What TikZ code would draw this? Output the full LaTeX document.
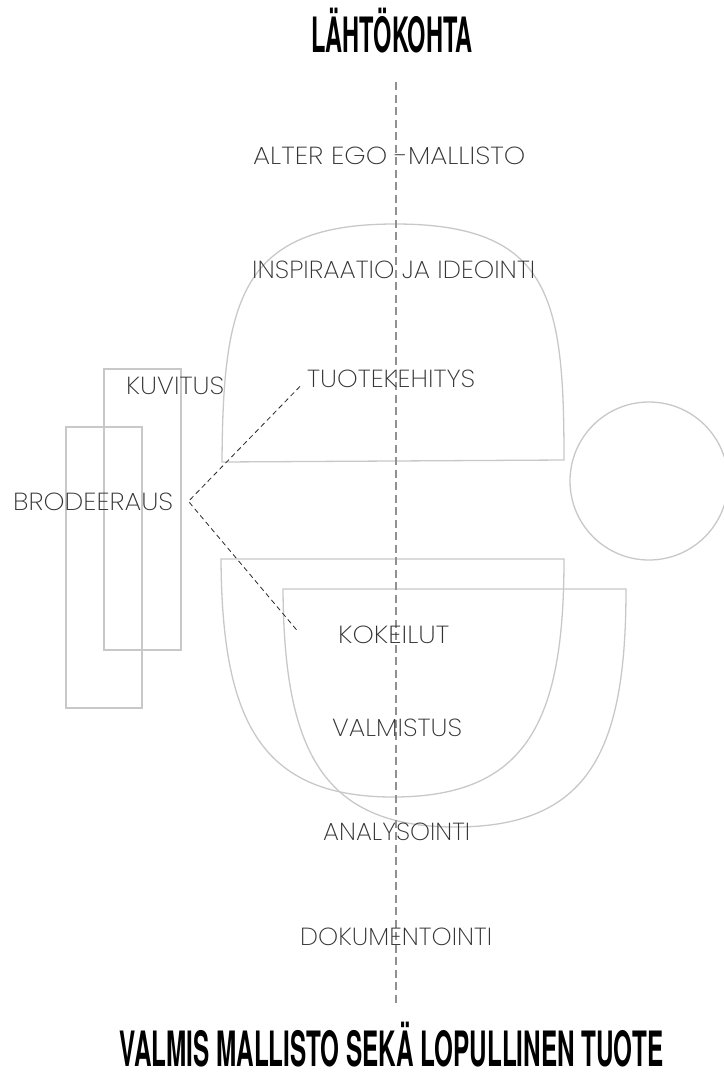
\documentclass[tikz,border=0pt]{standalone}
\usepackage{fontspec}
\usepackage{graphicx}
\IfFontExistsTF{Poppins ExtraLight}{\newfontfamily\lblfont{Poppins ExtraLight}\def\lblcol{51}}{%
  \IfFontExistsTF{Poppins Light}{\newfontfamily\lblfont{Poppins Light}\def\lblcol{51}}{%
    \newfontfamily\lblfont{Poppins}\def\lblcol{90}}}
\newfontfamily\ttlfont{TeX Gyre Heros}
\definecolor{shapegray}{RGB}{200,200,200}
\definecolor{axisgray}{RGB}{145,145,145}
\definecolor{txtgray}{RGB}{\lblcol,\lblcol,\lblcol}
\definecolor{linkgray}{RGB}{40,40,40}
\newcommand{\lbl}[2]{\resizebox{#1pt}{17.5pt}{\lblfont #2}}
\newcommand{\ttl}[2]{\scalebox{#1}[1]{\ttlfont\bfseries\fontsize{48.7}{50}\selectfont #2}}
\tikzset{
  outline/.style={draw=shapegray, line width=1.3pt},
  axisline/.style={draw=axisgray, line width=1.6pt, dash pattern=on 8pt off 4.5pt},
  connector/.style={draw=linkgray, line width=0.8pt, dash pattern=on 5pt off 3.5pt},
  labeltext/.style={anchor=base west, inner sep=0pt, text=txtgray},
  titletext/.style={anchor=base, inner sep=0pt, text=black}
}
\begin{document}
\begin{tikzpicture}[x=1pt,y=-1pt]
\useasboundingbox (0,0) rectangle (723,1076);
% top dome
\draw[outline] (222,462) .. controls (223,300) and (240,224) .. (395,224)
  .. controls (552,224) and (564,300) .. (564,460) -- cycle;
% bowls
\draw[outline] (221,559) .. controls (222,720) and (260,797) .. (393,797)
  .. controls (528,797) and (564,720) .. (564,559) -- cycle;
\begin{scope}[shift={(62,30)}]
\draw[outline] (221,559) .. controls (222,720) and (260,797) .. (393,797)
  .. controls (528,797) and (564,720) .. (564,559) -- cycle;
\end{scope}
% circle
\draw[outline] (649,481) circle[radius=79];
% rectangles
\draw[outline] (104,369) rectangle (181,650);
\draw[outline] (66,427) rectangle (142,708);
% centre axis
\draw[axisline] (396,82) -- (396,1003);
% titles
\node[titletext] (start) at (392,52) {\ttl{0.484}{LÄHTÖKOHTA}};
\node[titletext] (finish) at (391.5,1066) {\ttl{0.498}{VALMIS MALLISTO SEKÄ LOPULLINEN TUOTE}};
% labels
\node[labeltext] (alter) at (253,164) {\lbl{272}{ALTER EGO -MALLISTO}};
\node[labeltext] (insp) at (252,278) {\lbl{283}{INSPIRAATIO JA IDEOINTI}};
\node[labeltext] (tuo) at (307,387) {\lbl{168}{TUOTEKEHITYS}};
\node[labeltext] (kuv) at (126,394) {\lbl{98}{KUVITUS}};
\node[labeltext] (bro) at (13,510) {\lbl{160}{BRODEERAUS}};
\node[labeltext] (kok) at (338,643) {\lbl{111}{KOKEILUT}};
\node[labeltext] (valm) at (332,736) {\lbl{130}{VALMISTUS}};
\node[labeltext] (ana) at (323,840) {\lbl{147}{ANALYSOINTI}};
\node[labeltext] (dok) at (300,945) {\lbl{192}{DOKUMENTOINTI}};
% connectors
\coordinate (j) at ([xshift=15pt]bro.east);
\coordinate (e1) at ([shift={(-7pt,1pt)}]tuo.south west);
\coordinate (e2) at ([shift={(-41pt,4pt)}]kok.west);
\draw[connector] (e1) -- (j) -- (e2);
\end{tikzpicture}
\end{document}
